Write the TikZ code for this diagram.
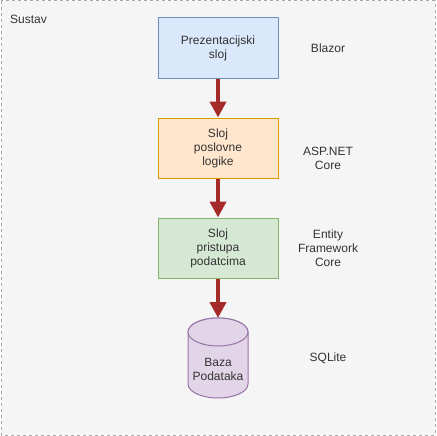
\documentclass[tikz,border=0pt]{standalone}
\usepackage{fontspec}
\setmainfont{Liberation Sans}
\usetikzlibrary{shapes.geometric,arrows.meta}
\definecolor{txt}{HTML}{333333}
\definecolor{bluef}{HTML}{DAE8FC}\definecolor{blued}{HTML}{6C8EBF}
\definecolor{orf}{HTML}{FFE6CC}\definecolor{ord}{HTML}{D79B00}
\definecolor{grf}{HTML}{D5E8D4}\definecolor{grd}{HTML}{82B366}
\definecolor{puf}{HTML}{E1D5E7}\definecolor{pud}{HTML}{9673A6}
\definecolor{arr}{HTML}{A52A2A}
\begin{document}
\begin{tikzpicture}[x=1pt,y=-1pt,
  every node/.style={font=\fontsize{12}{14}\selectfont, text=txt, align=center, inner sep=0pt},
  layerbox/.style={draw, line width=1pt, minimum width=120pt, minimum height=60pt},
  flow/.style={draw=arr, line width=4.5pt, -{Triangle[length=16pt,width=16pt]}, shorten >=0pt}
]
\useasboundingbox (0,0) rectangle (436,436);
\draw[draw=black!35, fill=black!4, line width=1pt, dash pattern=on 3pt off 3pt] (1,1) rectangle (435,435);
\node[anchor=west] (sustav) at (10,19) {Sustav};
\node[layerbox, fill=bluef, draw=blued] (p) at (218,48) {Prezentacijski\\sloj};
\node[layerbox, fill=orf, draw=ord] (b) at (218,148) {Sloj\\poslovne\\logike};
\node[layerbox, fill=grf, draw=grd] (d) at (218,248) {Sloj\\pristupa\\podatcima};
\coordinate (dbtop) at (218,318);
\filldraw[fill=puf, draw=pud, line width=1pt]
  (188,332) -- (188,384) arc[start angle=180, end angle=360, x radius=30pt, y radius=14pt]
  -- (248,332) arc[start angle=0, end angle=180, x radius=30pt, y radius=14pt] -- cycle;
\draw[fill=puf, draw=pud, line width=1pt] (218,332) ellipse[x radius=30pt, y radius=14pt];
\node (db) at (218,369) {Baza\\Podataka};
\node (l1) at (328,48) {Blazor};
\node (l2) at (328,158) {ASP.NET\\Core};
\node (l3) at (328,248) {Entity\\Framework\\Core};
\node (l4) at (328,358) {SQLite};
\draw[flow] (p.south) -- (b.north);
\draw[flow] (b.south) -- (d.north);
\draw[flow] (d.south) -- (dbtop);
\end{tikzpicture}
\end{document}
